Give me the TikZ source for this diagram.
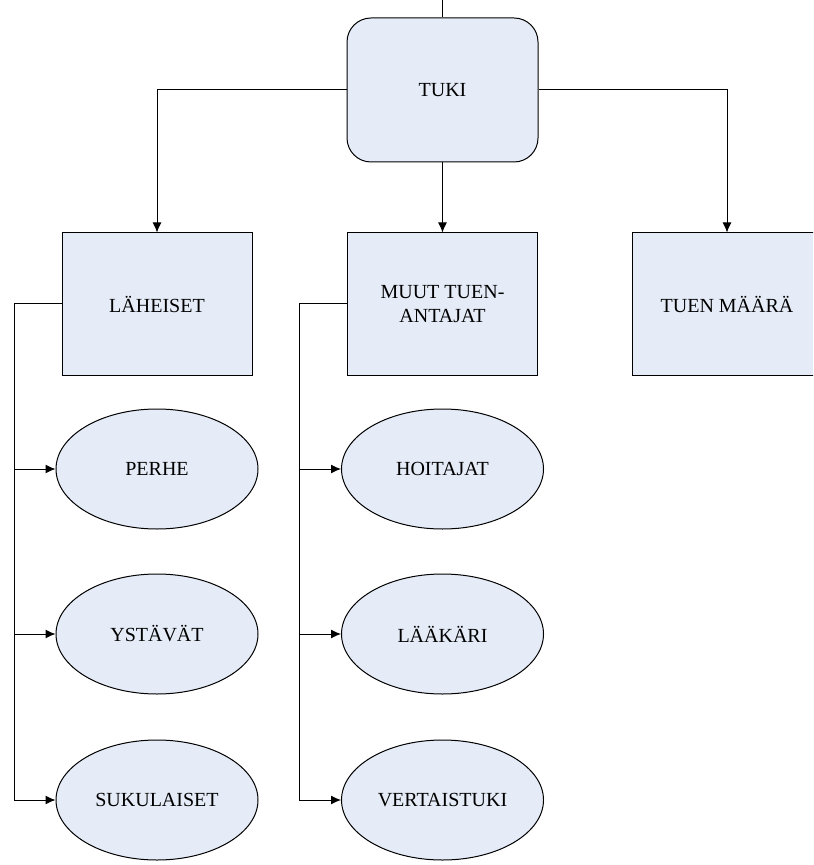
\documentclass[tikz,border=0pt]{standalone}
\usepackage{fontspec}
\setmainfont{Liberation Serif}
\usetikzlibrary{%
  shapes.geometric,
  arrows.meta,
  positioning
}
\definecolor{boxfill}{HTML}{E5ECF7}
\tikzstyle{mainblock}=[draw, fill=boxfill, rectangle, rounded corners=12pt, minimum height=72pt, minimum width=95.5pt, align=center]
\tikzstyle{block} = [draw, fill=boxfill, rectangle, minimum height=71pt, minimum width=95pt, align=center]
\tikzstyle{oval} = [draw, fill=boxfill, ellipse, minimum height=60pt, minimum width=101pt, inner sep=0pt]
\tikzstyle{input} = [coordinate]

\begin{document}
\begin{tikzpicture}[x=0.5pt, y=-0.5pt, line width=0.5pt, >={Latex[length=5pt,width=4.5pt]},
    every node/.style={font=\fontsize{10}{12}\selectfont}]
        \clip (0,0) rectangle (813,865);
        \node[mainblock] (tuki) at (442.5,90) {TUKI};
        \node[input] (top) at (442.5,-10) {};
        \node[block] (laheiset) at (157,304) {LÄHEISET};
        \node[block] (muut) at (442.5,304) {MUUT TUEN-\\ANTAJAT};
        \node[block] (maara) at (727,304) {TUEN MÄÄRÄ};
        % laheiset
        \node[oval] (perhe) at (157,469) {PERHE};
        \node[oval] (ystavat) at (157,634) {YSTÄVÄT};
        \node[oval] (sukulaiset) at (157,800) {SUKULAISET};
        % muut tuenantajat
        \node[oval] (hoitajat) at (442.5,469) {HOITAJAT};
        \node[oval] (laakari) at (442.5,634) {LÄÄKÄRI};
        \node[oval] (vertaistuki) at (442.5,800) {VERTAISTUKI};
        \node[input] (lbus) at (14,800) {};
        \node[input] (mbus) at (299,800) {};
        \draw (top) -- (tuki);
        \draw[->] (tuki.west) -| (laheiset);
        \draw[->] (tuki) -- (muut);
        \draw[->] (tuki.east) -| (maara);
        \draw[->] (laheiset.west) -| (lbus) -- (sukulaiset);
        \draw[->] (lbus |- perhe) -- (perhe);
        \draw[->] (lbus |- ystavat) -- (ystavat);
        \draw[->] (muut.west) -| (mbus) -- (vertaistuki);
        \draw[->] (mbus |- hoitajat) -- (hoitajat);
        \draw[->] (mbus |- laakari) -- (laakari);
\end{tikzpicture}
\end{document}
